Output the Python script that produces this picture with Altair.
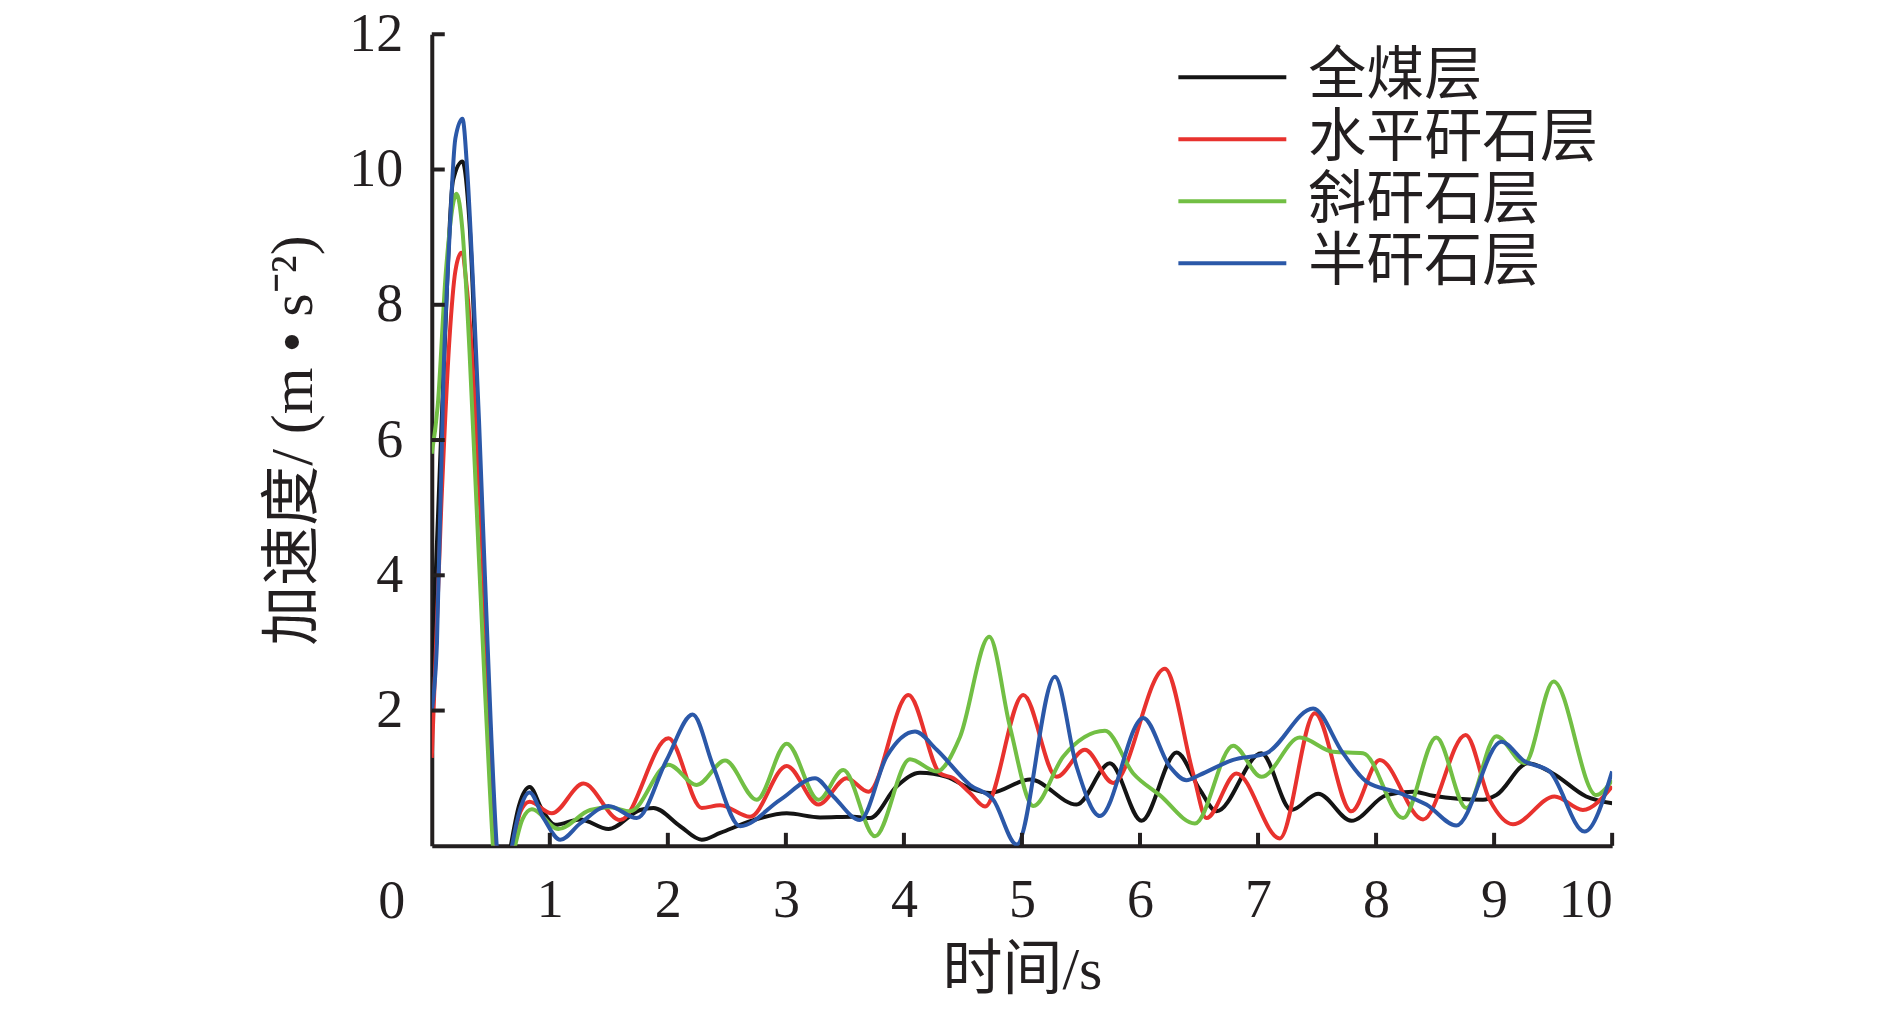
import altair as alt
import pandas as pd

# ---------------- data ----------------
series_names = ["全煤层", "水平矸石层", "斜矸石层", "半矸石层"]
series_colors = ["#141414", "#e8322e", "#72bf44", "#2b58a8"]

black_t = [0, 0.1, 0.18, 0.26, 0.32, 0.4, 0.47, 0.53, 0.6, 0.67, 0.74, 0.83, 0.93, 1.045, 1.257, 1.497,
           1.765, 1.878, 2.104, 2.287, 2.443, 2.725, 3.007, 3.29, 3.57, 3.713, 3.939, 4.136, 4.362, 4.56,
           4.729, 5.068, 5.463, 5.745, 6.013, 6.31, 6.507, 6.648, 7.029, 7.283, 7.509, 7.791, 8.087, 8.313,
           8.482, 8.906, 9.019, 9.287, 9.498, 9.78, 10.0]
black_v = [2.5, 7.0, 9.84, 10.12, 9.2, 5.8, 2.6, 0.2, -0.8, 0.0, 0.6, 0.87, 0.55, 0.31, 0.39, 0.25,
           0.53, 0.56, 0.29, 0.09, 0.19, 0.38, 0.48, 0.42, 0.43, 0.41, 0.88, 1.08, 1.02, 0.85,
           0.78, 0.98, 0.61, 1.22, 0.37, 1.38, 0.83, 0.51, 1.37, 0.53, 0.77, 0.37, 0.75, 0.8,
           0.74, 0.68, 0.75, 1.22, 1.07, 0.73, 0.63]

red_t = [0, 0.08, 0.15, 0.2, 0.25, 0.3, 0.37, 0.43, 0.49, 0.54, 0.61, 0.69, 0.75, 0.828, 1.017, 1.285,
         1.596, 2.005, 2.287, 2.443, 2.697, 3.007, 3.276, 3.515, 3.699, 4.038, 4.306, 4.419, 4.56, 4.687,
         5.011, 5.293, 5.533, 5.773, 6.211, 6.45, 6.563, 6.817, 7.184, 7.481, 7.791, 8.031, 8.398, 8.759,
         8.962, 9.16, 9.512, 9.752, 10.0]
red_v = [1.3, 5.0, 7.5, 8.5, 8.77, 8.2, 6.4, 4.3, 1.9, 0.0, -0.8, 0.0, 0.5, 0.65, 0.48, 0.92,
         0.38, 1.59, 0.56, 0.6, 0.43, 1.18, 0.61, 1.0, 0.8, 2.23, 1.07, 1.0, 0.78, 0.58,
         2.23, 1.02, 1.42, 0.93, 2.62, 1.07, 0.41, 1.07, 0.11, 1.96, 0.51, 1.27, 0.39, 1.64,
         0.68, 0.32, 0.73, 0.53, 0.88]

green_t = [0, 0.05, 0.12, 0.21, 0.26, 0.32, 0.38, 0.44, 0.49, 0.53, 0.6, 0.706, 0.77, 0.848, 1.073, 1.342,
           1.51, 1.68, 2.005, 2.245, 2.485, 2.753, 3.007, 3.276, 3.487, 3.755, 4.05, 4.278, 4.475, 4.723,
           4.898, 5.096, 5.35, 5.703, 5.943, 6.168, 6.465, 6.789, 7.029, 7.354, 7.636, 7.89, 8.229, 8.51,
           8.765, 9.019, 9.258, 9.504, 9.865, 10.0]
green_v = [5.8, 6.5, 8.5, 9.64, 9.1, 7.3, 5.0, 2.7, 0.9, -0.3, -1.0, 0.0, 0.4, 0.54, 0.25, 0.53,
           0.57, 0.51, 1.2, 0.9, 1.26, 0.68, 1.51, 0.68, 1.12, 0.14, 1.28, 1.1, 1.61, 3.09,
           1.76, 0.59, 1.32, 1.7, 1.07, 0.75, 0.33, 1.48, 1.02, 1.6, 1.39, 1.37, 0.41, 1.6,
           0.56, 1.62, 1.22, 2.43, 0.75, 0.97]

blue_t = [0, 0.044, 0.1, 0.15, 0.2, 0.26, 0.3, 0.35, 0.4, 0.45, 0.5, 0.55, 0.61, 0.68, 0.75, 0.828,
          0.95, 1.088, 1.257, 1.497, 1.737, 1.99, 2.21, 2.386, 2.612, 2.951, 3.247, 3.403, 3.628, 3.854,
          4.094, 4.278, 4.56, 4.757, 4.955, 5.279, 5.463, 5.66, 6.027, 6.253, 6.394, 6.507, 6.789, 7.071,
          7.467, 7.72, 7.918, 8.2, 8.426, 8.68, 9.061, 9.258, 9.47, 9.766, 10.0]
blue_v = [2.0, 3.0, 7.0, 9.0, 10.46, 10.75, 10.0, 8.3, 6.3, 4.0, 1.8, 0.0, -0.8, 0.0, 0.55, 0.79,
          0.4, 0.09, 0.33, 0.59, 0.41, 1.27, 1.94, 1.17, 0.29, 0.68, 1.0, 0.73, 0.38, 1.32,
          1.69, 1.42, 0.9, 0.68, 0.02, 2.5, 1.17, 0.44, 1.89, 1.17, 0.97, 1.05, 1.27, 1.37,
          2.03, 1.37, 0.95, 0.78, 0.61, 0.3, 1.54, 1.25, 1.1, 0.21, 1.1]

y_tick_values = [2, 4, 6, 8, 10, 12]
x_tick_values = [1, 2, 3, 4, 5, 6, 7, 8, 9, 10]

# ---------------- tables ----------------
rows = []
for name, ts, vs in zip(series_names,
                        [black_t, red_t, green_t, blue_t],
                        [black_v, red_v, green_v, blue_v]):
    for i, (t, v) in enumerate(zip(ts, vs)):
        rows.append({"series": name, "t": t, "v": v, "i": i})
lines_df = pd.DataFrame(rows)
ytick_df = pd.DataFrame({"v": y_tick_values})
xtick_df = pd.DataFrame({"t": x_tick_values})
origin_df = pd.DataFrame({"t": [0], "v": [0], "label": ["0"]})

W, H = 1181, 812
AX = "#231f20"
SERIF = "Liberation Serif, Noto Sans CJK SC"

x_axis = alt.Axis(values=x_tick_values, labelExpr="datum.value == 0 ? '' : datum.label",
                  title="时间/s", ticks=False, tickSize=0, grid=False,
                  labelPadding=28, titlePadding=14, domainWidth=4, domainColor=AX)
y_axis = alt.Axis(values=y_tick_values, title="加速度/ (m • s⁻²)",
                  ticks=False, tickSize=0, grid=False,
                  labelPadding=29, titlePadding=24, domainWidth=4, domainColor=AX)

x_scale = alt.Scale(domain=[0, 10], nice=False, zero=False)
y_scale = alt.Scale(domain=[0, 12], nice=False)

X = alt.X("t:Q", scale=x_scale, axis=x_axis)
Y = alt.Y("v:Q", scale=y_scale, axis=y_axis)

lines = alt.Chart(lines_df).mark_line(strokeWidth=4, interpolate="monotone", clip=True).encode(
    x=X, y=Y,
    color=alt.Color("series:N",
                    scale=alt.Scale(domain=series_names, range=series_colors),
                    sort=series_names,
                    legend=alt.Legend(title=None, orient="none", legendX=745, legendY=13,
                                      symbolType="stroke", symbolSize=11664, symbolStrokeWidth=4,
                                      clipHeight=60, rowPadding=2,
                                      labelFontSize=58, labelFont=SERIF, labelColor=AX,
                                      labelOffset=20, labelLimit=0)),
    order=alt.Order("i:Q"),
)

yticks = alt.Chart(ytick_df).mark_rule(strokeWidth=4, color=AX).encode(
    y=Y, x=alt.value(0), x2=alt.value(13))
xticks = alt.Chart(xtick_df).mark_rule(strokeWidth=4, color=AX).encode(
    x=X, y=alt.value(H), y2=alt.value(H - 13))
origin = alt.Chart(origin_df).mark_text(fontSize=54, font=SERIF, color=AX, dx=-40, dy=56).encode(
    x=X, y=Y, text="label:N")

chart = alt.layer(lines, yticks, xticks, origin).properties(
    width=W, height=H,
    autosize=alt.AutoSizeParams(type="none"),
    padding={"left": 424, "top": 26, "right": 270, "bottom": 160},
).configure_view(stroke=None).configure_axis(
    labelFont=SERIF, labelFontSize=54, labelColor=AX,
    titleFont=SERIF, titleFontSize=60, titleColor=AX, titleFontWeight="normal",
)

chart.save("out.html", embed_options={"renderer": "svg", "actions": False})
